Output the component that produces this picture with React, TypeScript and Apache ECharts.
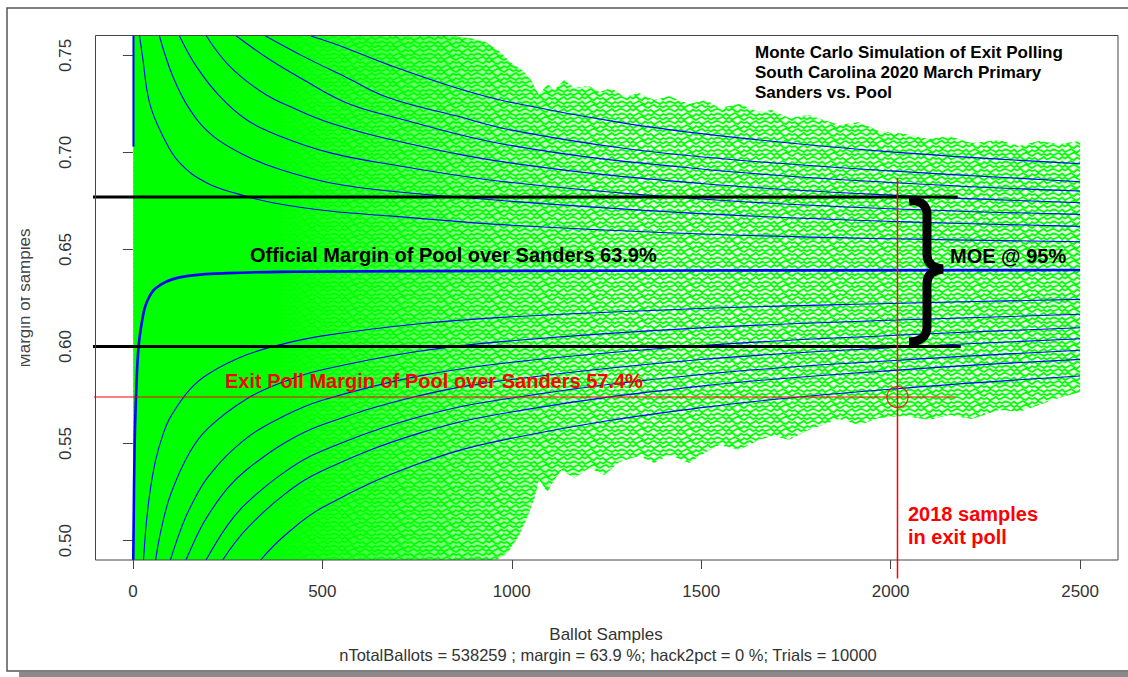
import React, { useEffect, useRef } from "react";
import * as echarts from "echarts";

// ---- axis ticks ----
const xTicks = [0, 500, 1000, 1500, 2000, 2500];
const yTicks = [0.5, 0.55, 0.6, 0.65, 0.7, 0.75];

// ---- reference values ----
const officialMargin = 0.639;
const exitPollMargin = 0.574;
const exitPollSamples = 2018;
const moeUpper = 0.677;
const moeLower = 0.6;

// ---- blue percentile curves [ballot samples, margin] ----
const medianCurve = [[1, 0.49], [4.5, 0.548], [9, 0.578], [15, 0.6], [25, 0.614], [35, 0.622], [60, 0.63], [120, 0.6355], [250, 0.6378], [430, 0.6385], [1000, 0.639], [2500, 0.6394]];
const upper1 = [[17.6, 0.76], [25, 0.75], [44, 0.7256], [79, 0.7085], [123, 0.6947], [194, 0.6844], [281, 0.6784], [369, 0.6741], [519, 0.6698], [677, 0.6673], [1000, 0.6625], [1500, 0.658], [2000, 0.6555], [2500, 0.654]];
const upper2 = [[70, 0.76], [105, 0.7394], [150, 0.7222], [211, 0.7085], [299, 0.6982], [387, 0.6913], [519, 0.6844], [677, 0.6801], [1000, 0.6748], [1500, 0.6685], [2000, 0.6645], [2500, 0.6619]];
const upper3 = [[123, 0.76], [167, 0.7445], [229, 0.729], [299, 0.717], [387, 0.7085], [519, 0.6999], [677, 0.6939], [1000, 0.6845], [1500, 0.676], [2000, 0.671], [2500, 0.6681]];
const upper4 = [[194, 0.76], [255, 0.7445], [343, 0.7308], [431, 0.7222], [519, 0.7153], [677, 0.7068], [1000, 0.6945], [1500, 0.684], [2000, 0.678], [2500, 0.6741]];
const upper5 = [[273, 0.76], [360, 0.748], [448, 0.7377], [563, 0.7256], [677, 0.7188], [1000, 0.7035], [1500, 0.6915], [2000, 0.6845], [2500, 0.6801]];
const upper6 = [[350, 0.76], [450, 0.7495], [560, 0.739], [677, 0.728], [850, 0.719], [1000, 0.7115], [1300, 0.702], [1600, 0.696], [2000, 0.6905], [2500, 0.6849]];
const upper7 = [[470, 0.76], [560, 0.754], [677, 0.745], [850, 0.7335], [1000, 0.7257], [1300, 0.715], [1600, 0.7075], [2000, 0.7003], [2500, 0.6942]];
const lower1 = [[28, 0.49], [35, 0.508], [45, 0.525], [60, 0.5415], [80, 0.555], [100, 0.564], [150, 0.5778], [200, 0.586], [300, 0.5957], [400, 0.6015], [500, 0.6055], [750, 0.6116], [1000, 0.6153], [1500, 0.6196], [2000, 0.6222], [2500, 0.6243]];
const lower2 = [[60, 0.49], [75, 0.506], [100, 0.524], [150, 0.5455], [200, 0.5582], [300, 0.573], [400, 0.582], [500, 0.588], [750, 0.5974], [1000, 0.603], [1500, 0.6096], [2000, 0.6135], [2500, 0.6166]];
const lower3 = [[99, 0.49], [125, 0.505], [150, 0.5165], [200, 0.5332], [300, 0.5528], [400, 0.5643], [500, 0.5723], [750, 0.5846], [1000, 0.5919], [1500, 0.6005], [2000, 0.6057], [2500, 0.6097]];
const lower4 = [[140, 0.49], [175, 0.505], [200, 0.5135], [250, 0.527], [300, 0.5365], [400, 0.5503], [500, 0.5597], [750, 0.5744], [1000, 0.583], [1500, 0.5933], [2000, 0.5994], [2500, 0.604]];
const lower5 = [[193, 0.49], [250, 0.508], [300, 0.5193], [400, 0.5353], [500, 0.5463], [750, 0.5634], [1000, 0.5735], [1500, 0.5856], [2000, 0.5927], [2500, 0.5981]];
const lower6 = [[237, 0.49], [300, 0.506], [400, 0.5238], [500, 0.536], [750, 0.555], [1000, 0.5663], [1500, 0.5796], [2000, 0.5876], [2500, 0.5934]];
const lower7 = [[337, 0.49], [400, 0.5025], [500, 0.517], [750, 0.5393], [1000, 0.5527], [1500, 0.5685], [2000, 0.578], [2500, 0.5848]];
const firstBallotSpread = [[1.5, 0.703], [1.5, 0.76]];

// ---- green simulation-trial envelope ----
const envelopeUpper = [[1, 0.76], [850, 0.76], [900, 0.7585], [930, 0.757], [967, 0.752], [1000, 0.746], [1030, 0.742], [1050, 0.7375], [1072, 0.7296], [1094, 0.7353], [1112, 0.7322], [1138, 0.7373], [1165, 0.7332], [1204, 0.7342], [1231, 0.7311], [1262, 0.7332], [1297, 0.7286], [1336, 0.7306], [1376, 0.727], [1415, 0.7291], [1468, 0.725], [1513, 0.727], [1547, 0.7229], [1600, 0.725], [1653, 0.7208], [1687, 0.7219], [1732, 0.7178], [1784, 0.7193], [1864, 0.7142], [1917, 0.7157], [1969, 0.7111], [2040, 0.7095], [2101, 0.7069], [2154, 0.7085], [2214, 0.7049], [2286, 0.7064], [2338, 0.7033], [2391, 0.7059], [2444, 0.7044], [2500, 0.7059]];
const envelopeLower = [[1, 0.49], [960, 0.49], [990, 0.494], [1020, 0.503], [1045, 0.514], [1060, 0.522], [1072, 0.5313], [1094, 0.5251], [1107, 0.5297], [1131, 0.5364], [1165, 0.5323], [1204, 0.5374], [1244, 0.5338], [1284, 0.5405], [1336, 0.5436], [1376, 0.54], [1415, 0.5441], [1468, 0.54], [1513, 0.5457], [1547, 0.5493], [1600, 0.5467], [1653, 0.5519], [1687, 0.5539], [1732, 0.5519], [1784, 0.557], [1864, 0.5627], [1917, 0.5596], [1969, 0.5632], [2040, 0.5642], [2101, 0.5622], [2154, 0.5647], [2214, 0.5627], [2286, 0.5673], [2338, 0.5663], [2391, 0.5699], [2444, 0.5735], [2500, 0.5766]];

// ---- annotation line extents ----
const moeUpperLine = [[-158, moeUpper], [2177, moeUpper]];
const moeLowerLine = [[-149, moeLower], [2185, moeLower]];
const exitPollLine = [[-162, exitPollMargin], [2170, exitPollMargin]];
const exitPollSampleLine = [[exitPollSamples, 0.687], [exitPollSamples, 0.4805]];

const FONT = '"Liberation Sans", Arial, Helvetica, sans-serif';

const BracePath = echarts.graphic.extendPath(
  "M 1 4 C 10 3 18 6 19 16 L 19 58 C 19 66 25 71 35 72 C 25 73 19 78 19 86 L 19 130 C 19 140 11 145 1 145",
  {}
);
echarts.graphic.registerShape("brace", BracePath);

// zig-zag texture rows (style of the green trial traces)
const TEX_W = 48;
const TEX_H = 12;
const TEX_ROWS = [
  [2, 3.5, 1, 2.5, 0.5, 3, 4, 1.5, 3, 2, 4.5, 2.5, 1, 3.5, 2, 1, 2],
  [6, 7.5, 5.5, 8, 6.5, 5, 7, 8.5, 6, 7.5, 5.5, 6.5, 8, 6, 7, 5.5, 6],
  [10, 9, 11, 9.5, 11.5, 10, 8.5, 10.5, 12, 10, 9, 11, 10, 11.5, 9.5, 11, 10],
];

function makeTexture() {
  const c = document.createElement("canvas");
  c.width = TEX_W;
  c.height = TEX_H;
  const ctx = c.getContext("2d")!;
  ctx.strokeStyle = "#00ff00";
  ctx.lineWidth = 1.8;
  for (const row of TEX_ROWS) {
    for (const dy of [-TEX_H, 0, TEX_H]) {
      ctx.beginPath();
      row.forEach((y, i) => {
        const x = i * 3;
        if (i === 0) ctx.moveTo(x, y + dy);
        else ctx.lineTo(x, y + dy);
      });
      ctx.stroke();
    }
  }
  return c;
}

export default function App() {
  const ref = useRef<HTMLDivElement>(null);

  useEffect(() => {
    const chart = echarts.init(ref.current!, null, { renderer: "svg" });
    const tex = makeTexture();
    const pattern: any = { image: tex, repeat: "repeat", imageWidth: TEX_W, imageHeight: TEX_H };
    const gradient = new echarts.graphic.LinearGradient(0, 0, 1, 0, [
      { offset: 0, color: "rgba(0,255,0,1)" },
      { offset: 0.15, color: "rgba(0,255,0,1)" },
      { offset: 0.25, color: "rgba(0,255,0,0.75)" },
      { offset: 0.38, color: "rgba(0,255,0,0.35)" },
      { offset: 0.52, color: "rgba(0,255,0,0.1)" },
      { offset: 1, color: "rgba(0,255,0,0.1)" },
    ]);
    const envelope = [...envelopeUpper, ...envelopeLower.slice().reverse()];

    const blue = (data: number[][], width = 1.1) => ({
      type: "line",
      data,
      showSymbol: false,
      symbol: "none",
      smooth: 0.4,
      lineStyle: { color: "#0000ff", width },
      z: 3,
      silent: true,
    });
    const plain = (data: number[][], color: string, width: number, z: number) => ({
      type: "line",
      data,
      showSymbol: false,
      symbol: "none",
      clip: false,
      lineStyle: { color, width },
      z,
      silent: true,
    });

    const option: any = {
      animation: false,
      backgroundColor: "#ffffff",
      grid: { left: 95, top: 36, right: 10, bottom: 117, show: false },
      xAxis: {
        type: "value",
        min: -100,
        max: 2600,
        splitLine: { show: false },
        axisLine: { show: false },
        axisTick: { show: true, customValues: xTicks, length: 9, lineStyle: { color: "#444" } },
        axisLabel: {
          customValues: xTicks,
          fontSize: 17,
          color: "#333",
          fontFamily: FONT,
          margin: 23,
          formatter: (v: number) => String(v),
        },
      },
      yAxis: {
        type: "value",
        min: 0.49,
        max: 0.76,
        splitLine: { show: false },
        axisLine: { show: false },
        axisTick: { show: true, customValues: yTicks, length: 10, lineStyle: { color: "#444" } },
        axisLabel: {
          customValues: yTicks,
          rotate: 90,
          fontSize: 17,
          color: "#333",
          fontFamily: FONT,
          margin: 21,
          formatter: (v: number) => v.toFixed(2),
        },
      },
      series: [
        {
          type: "custom",
          data: envelope,
          clip: true,
          z: 1,
          silent: true,
          renderItem: (params: any, api: any) => {
            if (params.dataIndex !== 0) return null;
            const pts = envelope.map((p) => api.coord(p));
            return {
              type: "group",
              children: [
                { type: "polygon", shape: { points: pts }, style: { fill: pattern, stroke: null } },
                { type: "polygon", shape: { points: pts }, style: { fill: gradient, stroke: null } },
              ],
            };
          },
        },
        blue(firstBallotSpread, 2),
        blue(upper7), blue(upper6), blue(upper5), blue(upper4), blue(upper3), blue(upper2), blue(upper1),
        blue(medianCurve, 2.6),
        blue(lower1), blue(lower2), blue(lower3), blue(lower4), blue(lower5), blue(lower6), blue(lower7),
        plain(moeUpperLine, "#000000", 3, 5),
        plain(moeLowerLine, "#000000", 3, 5),
        plain(exitPollLine, "#ff0000", 1.2, 6),
        plain(exitPollSampleLine, "#ff0000", 1.5, 6),
        {
          type: "scatter",
          data: [[exitPollSamples, exitPollMargin]],
          symbol: "circle",
          symbolSize: 21,
          itemStyle: { color: "rgba(0,0,0,0)", borderColor: "#ff0000", borderWidth: 1.3 },
          z: 7,
          silent: true,
        },
      ],
      graphic: [
        { type: "rect", shape: { x: 95.5, y: 35.5, width: 1022.5, height: 524.5 }, style: { fill: "none", stroke: "#444", lineWidth: 1 }, z: 50, silent: true },
        { type: "rect", shape: { x: 7, y: 8, width: 1200, height: 663 }, style: { fill: "none", stroke: "#555", lineWidth: 1.5 }, z: 50, silent: true },
        { type: "rect", shape: { x: 19, y: 672, width: 1200, height: 6 }, style: { fill: "#8a8a8a" }, z: 50, silent: true },
        { type: "text", x: 24, y: 298, rotation: Math.PI / 2, style: { text: "Margin of samples", fontSize: 17, fontFamily: FONT, fill: "#444", textAlign: "center", textVerticalAlign: "middle" }, z: 50 },
        { type: "rect", shape: { x: 9, y: 215, width: 12, height: 165 }, style: { fill: "#ffffff" }, z: 51, silent: true },
        { type: "text", x: 606, y: 634, style: { text: "Ballot Samples", fontSize: 17, fontFamily: FONT, fill: "#333", textAlign: "center", textVerticalAlign: "middle" }, z: 50 },
        { type: "text", x: 608, y: 655, style: { text: "nTotalBallots = 538259 ; margin = 63.9 %; hack2pct = 0 %; Trials = 10000", fontSize: 16.5, fontFamily: FONT, fill: "#333", textAlign: "center", textVerticalAlign: "middle" }, z: 50 },
        { type: "text", x: 755, y: 52, style: { text: "Monte Carlo Simulation of Exit Polling", fontSize: 17, fontWeight: "bold", fontFamily: FONT, fill: "#000", textAlign: "left", textVerticalAlign: "middle" }, z: 50 },
        { type: "text", x: 755, y: 72, style: { text: "South Carolina 2020 March Primary", fontSize: 17, fontWeight: "bold", fontFamily: FONT, fill: "#000", textAlign: "left", textVerticalAlign: "middle" }, z: 50 },
        { type: "text", x: 755, y: 92, style: { text: "Sanders vs. Pool", fontSize: 17, fontWeight: "bold", fontFamily: FONT, fill: "#000", textAlign: "left", textVerticalAlign: "middle" }, z: 50 },
        { type: "text", x: 250, y: 255, style: { text: "Official Margin of Pool over Sanders 63.9%", fontSize: 20, fontWeight: "bold", fontFamily: FONT, fill: "#000", textAlign: "left", textVerticalAlign: "middle" }, z: 50 },
        { type: "text", x: 225, y: 381, style: { text: "Exit Poll Margin of Pool over Sanders 57.4%", fontSize: 20, fontWeight: "bold", fontFamily: FONT, fill: "#ff0000", textAlign: "left", textVerticalAlign: "middle" }, z: 50 },
        { type: "text", x: 950, y: 256, style: { text: "MOE @ 95%", fontSize: 20, fontWeight: "bold", fontFamily: FONT, fill: "#000", textAlign: "left", textVerticalAlign: "middle" }, z: 50 },
        { type: "text", x: 908, y: 514, style: { text: "2018 samples", fontSize: 20, fontWeight: "bold", fontFamily: FONT, fill: "#ff0000", textAlign: "left", textVerticalAlign: "middle" }, z: 50 },
        { type: "text", x: 908, y: 537, style: { text: "in exit poll", fontSize: 20, fontWeight: "bold", fontFamily: FONT, fill: "#ff0000", textAlign: "left", textVerticalAlign: "middle" }, z: 50 },
        { type: "brace", x: 908, y: 197, style: { fill: "none", stroke: "#000", lineWidth: 9 }, z: 50, silent: true },
      ],
    };
    chart.setOption(option);
    return () => chart.dispose();
  }, []);

  return (
    <div
      ref={ref}
      style={{ position: "fixed", left: 0, top: 0, width: 1128, height: 677, background: "#fff" }}
    />
  );
}
